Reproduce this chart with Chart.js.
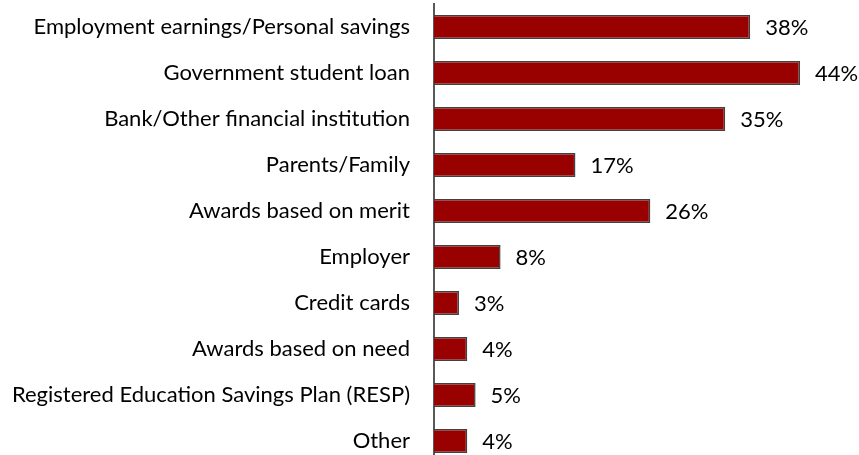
<!DOCTYPE html>
<html>
<head>
<meta charset="utf-8">
<script src="https://cdn.jsdelivr.net/npm/chart.js@4"></script>
<style>
  html, body { margin: 0; padding: 0; background: #fff; overflow: hidden; }
  canvas { display: block; }
</style>
</head>
<body>
<canvas id="balken" width="859" height="464"></canvas>
<script>
// Kategorien und Werte (in Prozent)
const quellen = [
  "Employment earnings/Personal savings",
  "Government student loan",
  "Bank/Other financial institution",
  "Parents/Family",
  "Awards based on merit",
  "Employer",
  "Credit cards",
  "Awards based on need",
  "Registered Education Savings Plan (RESP)",
  "Other"
];
const anteile = [38, 44, 35, 17, 26, 8, 3, 4, 5, 4];

const schrift = "Lato, 'Open Sans', sans-serif";
const schriftGroesse = 22;

// Prozentwerte rechts neben die Balken schreiben
const wertLabels = {
  id: "wertLabels",
  afterDatasetsDraw(chart) {
    const ctx = chart.ctx;
    const meta = chart.getDatasetMeta(0);
    ctx.save();
    ctx.font = schriftGroesse + "px " + schrift;
    ctx.fillStyle = "#000";
    ctx.textAlign = "left";
    ctx.textBaseline = "middle";
    meta.data.forEach(function (bar, i) {
      ctx.fillText(anteile[i] + "%", bar.x + 15, bar.y + 1);
    });
    ctx.restore();
  }
};

let balken = document.querySelector("#balken");

const data = {
  labels: quellen,
  datasets: [
    {
      data: anteile,
      backgroundColor: "#990000",
      borderColor: "#404040",
      borderWidth: 1.5,
      barPercentage: 0.52,
      categoryPercentage: 1
    }
  ]
};

const config = {
  type: "bar",
  data: data,
  options: {
    indexAxis: "y",
    responsive: false,
    animation: false,
    layout: { padding: { top: 4, right: 9, bottom: 0, left: 0 } },
    plugins: {
      legend: { display: false },
      tooltip: { enabled: false }
    },
    scales: {
      x: {
        display: false,
        min: 0,
        max: 50
      },
      y: {
        grid: { display: false, drawTicks: false },
        border: { display: true, color: "#595959", width: 2 },
        ticks: {
          color: "#000",
          padding: 24,
          font: { family: schrift, size: schriftGroesse }
        },
        afterFit: function (scale) {
          // feste Achsenbreite, kein Zusatzrand oben/unten
          scale.width = 434;
          scale.paddingTop = 0;
          scale.paddingBottom = 0;
        }
      }
    }
  },
  plugins: [wertLabels]
};

const chart = new Chart(balken, config);
</script>
</body>
</html>
